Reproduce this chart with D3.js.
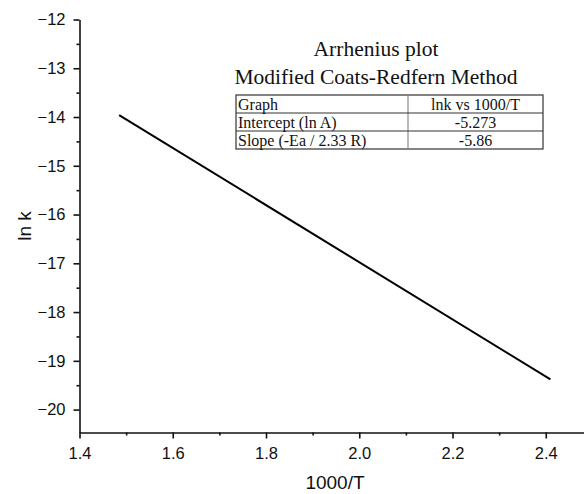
<!DOCTYPE html>
<html>
<head>
<meta charset="utf-8">
<script src="https://cdn.jsdelivr.net/npm/d3@7"></script>
<style>
  body { margin: 0; background: #fff; }
  svg { display: block; }
</style>
</head>
<body>
<div id="chart"></div>
<script>
// fitted line
const lineX = [1.485, 2.41];
const lineY = [-13.96, -19.38];

const xTicks = [1.4, 1.6, 1.8, 2.0, 2.2, 2.4];
const xMinor = [1.5, 1.7, 1.9, 2.1, 2.3];
const yTicks = [-12, -13, -14, -15, -16, -17, -18, -19, -20];
const yMinor = [-12.5, -13.5, -14.5, -15.5, -16.5, -17.5, -18.5, -19.5];

const titleLines = ["Arrhenius plot", "Modified Coats-Redfern Method"];
const tableRows = [
  ["Graph", "lnk vs 1000/T"],
  ["Intercept (ln A)", "-5.273"],
  ["Slope (-Ea / 2.33 R)", "-5.86"]
];

const W = 584, H = 494;
const plot = { left: 79.5, right: 584, top: 19.5, bottom: 432.5 };

const svg = d3.select("#chart").append("svg")
  .attr("width", W)
  .attr("height", H);

const x = d3.scaleLinear().domain([1.4, 2.482]).range([plot.left, plot.right]);
const y = d3.scaleLinear().domain([-20.47, -12]).range([plot.bottom, plot.top]);

const fmtX = d3.format(".1f");
const fmtY = d => d3.format("d")(d).replace("-", "\u2212");
const sans = "'Liberation Sans', Arial, sans-serif";

// minor ticks first so majors draw on top
svg.append("g")
  .attr("transform", `translate(0,${plot.bottom})`)
  .call(d3.axisBottom(x).tickValues(xMinor).tickSize(3).tickFormat(""))
  .call(g => g.select(".domain").remove());
svg.append("g")
  .attr("transform", `translate(${plot.left},0)`)
  .call(d3.axisLeft(y).tickValues(yMinor).tickSize(3).tickFormat(""))
  .call(g => g.select(".domain").remove());

const xAxis = svg.append("g")
  .attr("transform", `translate(0,${plot.bottom})`)
  .call(d3.axisBottom(x).tickValues(xTicks).tickSize(6).tickSizeOuter(0).tickPadding(9).tickFormat(fmtX));

const yAxis = svg.append("g")
  .attr("transform", `translate(${plot.left},0)`)
  .call(d3.axisLeft(y).tickValues(yTicks).tickSize(6).tickSizeOuter(0).tickPadding(8).tickFormat(fmtY));

[xAxis, yAxis].forEach(a => {
  a.selectAll("text")
    .attr("fill", "#111")
    .style("font-family", sans)
    .style("font-size", "16.5px");
});
svg.selectAll(".domain, .tick line").attr("stroke", "#111").attr("stroke-width", 1.6);

// axis titles
svg.append("text")
  .attr("x", 335)
  .attr("y", 489)
  .attr("text-anchor", "middle")
  .style("font-family", sans)
  .style("font-size", "19px")
  .attr("fill", "#111")
  .text("1000/T");

svg.append("text")
  .attr("transform", `translate(31,${(plot.top + plot.bottom) / 2}) rotate(-90)`)
  .attr("text-anchor", "middle")
  .style("font-family", sans)
  .style("font-size", "19px")
  .attr("fill", "#111")
  .text("ln k");

// the fitted line
svg.append("path")
  .datum(lineX.map((d, i) => [d, lineY[i]]))
  .attr("fill", "none")
  .attr("stroke", "#000")
  .attr("stroke-width", 2)
  .attr("d", d3.line().x(d => x(d[0])).y(d => y(d[1])));

// title + result table
const serif = "'Liberation Serif', 'Times New Roman', serif";
svg.selectAll(".title-line")
  .data(titleLines)
  .enter().append("text")
  .attr("class", "title-line")
  .attr("x", 376)
  .attr("y", (d, i) => 56 + i * 28)
  .attr("text-anchor", "middle")
  .style("font-family", serif)
  .style("font-size", "21.5px")
  .attr("fill", "#111")
  .text(d => d);

const tbl = { x0: 236, x1: 543, xMid: 408, y0: 95, rowH: 18 };
const tg = svg.append("g");
tg.append("rect")
  .attr("x", tbl.x0).attr("y", tbl.y0)
  .attr("width", tbl.x1 - tbl.x0).attr("height", tbl.rowH * tableRows.length)
  .attr("fill", "none").attr("stroke", "#333").attr("stroke-width", 1.2);
tg.append("line")
  .attr("x1", tbl.xMid).attr("x2", tbl.xMid)
  .attr("y1", tbl.y0).attr("y2", tbl.y0 + tbl.rowH * tableRows.length)
  .attr("stroke", "#777").attr("stroke-width", 1);
tableRows.slice(1).forEach((r, i) => {
  tg.append("line")
    .attr("x1", tbl.x0).attr("x2", tbl.x1)
    .attr("y1", tbl.y0 + tbl.rowH * (i + 1)).attr("y2", tbl.y0 + tbl.rowH * (i + 1))
    .attr("stroke", "#333").attr("stroke-width", 1.2);
});
tableRows.forEach((r, i) => {
  const by = tbl.y0 + tbl.rowH * (i + 1) - 3;
  tg.append("text")
    .attr("x", tbl.x0 + 2).attr("y", by)
    .style("font-family", serif).style("font-size", "16px")
    .attr("fill", "#111")
    .text(r[0]);
  tg.append("text")
    .attr("x", (tbl.xMid + tbl.x1) / 2).attr("y", by)
    .attr("text-anchor", "middle")
    .style("font-family", serif).style("font-size", "16px")
    .attr("fill", "#111")
    .text(r[1]);
});
</script>
</body>
</html>
